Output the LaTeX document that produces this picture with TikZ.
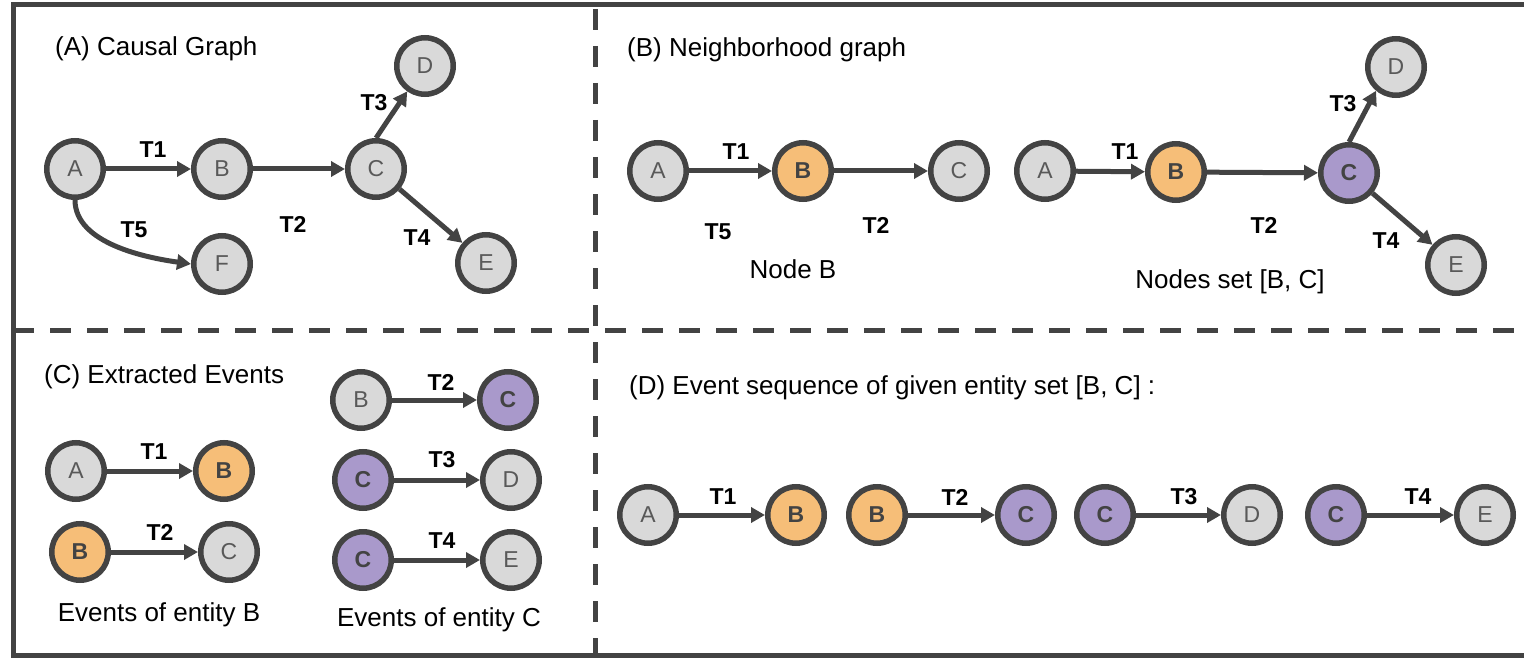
\documentclass[tikz,border=0pt]{standalone}
\usepackage{fontspec}
\setmainfont{Liberation Sans}
\usetikzlibrary{arrows.meta}
\definecolor{edgec}{HTML}{434343}
\definecolor{grayfill}{HTML}{D9D9D9}
\definecolor{orangefill}{HTML}{F6BE78}
\definecolor{purplefill}{HTML}{A999CB}
\definecolor{graytext}{HTML}{595959}
\begin{document}
\begin{tikzpicture}[x=1pt,y=1pt,
 ent/.style={circle, draw=edgec, line width=5.5pt, minimum size=56.5pt, inner sep=0pt, fill=grayfill, text=graytext, font=\fontsize{23}{23}\selectfont},
 entB/.style={ent, fill=orangefill, text=edgec, font=\fontsize{23}{23}\selectfont\bfseries},
 entC/.style={entB, fill=purplefill},
 relarrow/.style={draw=edgec, line width=5pt, -{Triangle[length=14pt,width=15pt]}},
 tlab/.style={font=\fontsize{23}{23}\selectfont\bfseries, inner sep=0pt},
 ptitle/.style={font=\fontsize{26}{26}\selectfont, inner sep=0pt, anchor=west},
 capt/.style={font=\fontsize{26}{26}\selectfont, inner sep=0pt},
 outerframe/.style={draw=edgec, line width=5pt},
 divider/.style={draw=edgec, line width=5pt, dash pattern=on 21pt off 16pt}
]
\useasboundingbox (0,0) rectangle (1524,-658);
% frame and dividers
\draw[outerframe] (1530,-5) -- (13,-5) -- (13,-655.5) -- (1530,-655.5);
\draw[divider] (13,-330) -- (1524,-330);
\draw[divider] (595.5,-9) -- (595.5,-653);

% (A) Causal graph
\node[ptitle] (tA) at (55,-49) {(A) Causal Graph};
\node[ent] (A1) at (75,-169) {A};
\node[ent] (B1) at (222,-169) {B};
\node[ent] (C1) at (376,-169) {C};
\node[ent] (D1) at (425,-66) {D};
\node[ent] (E1) at (486,-263) {E};
\node[ent] (F1) at (222,-264) {F};
\draw[relarrow] (A1) -- (B1);
\draw[relarrow] (B1) -- (C1);
\draw[relarrow] (C1.north) -- (D1.235);
\draw[relarrow] (C1) -- (E1);
\draw[relarrow] (A1.south) to[out=-90,in=172,looseness=0.85] (F1.west);
\node[tlab] (lA1) at (153,-150) {T1};
\node[tlab] (lA2) at (293,-224) {T2};
\node[tlab] (lA3) at (374,-103) {T3};
\node[tlab] (lA4) at (417,-238) {T4};
\node[tlab] (lA5) at (134,-230) {T5};

% (B) Neighborhood graph
\node[ptitle] (tB) at (627,-50) {(B) Neighborhood graph};
\node[ent] (A2) at (658,-171) {A};
\node[entB] (B2) at (803,-171) {B};
\node[ent] (C2) at (959,-171) {C};
\draw[relarrow] (A2) -- (B2);
\draw[relarrow] (B2) -- (C2);
\node[tlab] (lB1) at (736,-152) {T1};
\node[tlab] (lB5) at (718,-232) {T5};
\node[tlab] (lB2) at (876,-225) {T2};
\node[capt] (cB1) at (793,-269) {Node B};

\node[ent] (A3) at (1045,-171) {A};
\node[entB] (B3) at (1176,-172) {B};
\node[entC] (C3) at (1349,-173) {C};
\node[ent] (D3) at (1396,-67) {D};
\node[ent] (E3) at (1456,-265) {E};
\draw[relarrow] (A3) -- (B3);
\draw[relarrow] (B3) -- (C3);
\draw[relarrow] (C3.north) -- (D3.230);
\draw[relarrow] (C3) -- (E3);
\node[tlab] (lC1) at (1125,-152) {T1};
\node[tlab] (lC2) at (1264,-225) {T2};
\node[tlab] (lC3) at (1343,-104) {T3};
\node[tlab] (lC4) at (1386,-241) {T4};
\node[capt] (cB2) at (1230,-282) {Nodes set [B, C]};

% (C) Extracted events
\node[ptitle] (tC) at (44,-377) {(C) Extracted Events};
\node[ent] (A4) at (76,-471) {A};
\node[entB] (B4) at (224,-471) {B};
\draw[relarrow] (A4) -- (B4);
\node[tlab] (lD1) at (154,-452) {T1};
\node[entB] (B5) at (80,-552) {B};
\node[ent] (C5) at (229,-552) {C};
\draw[relarrow] (B5) -- (C5);
\node[tlab] (lD2) at (160,-532) {T2};
\node[capt] (cC1) at (159,-615) {Events of entity B};

\node[ent] (B6) at (361,-400) {B};
\node[entC] (C6) at (508,-400) {C};
\draw[relarrow] (B6) -- (C6);
\node[tlab] (lE2) at (441,-382) {T2};
\node[entC] (C7) at (363,-480) {C};
\node[ent] (D7) at (511,-480) {D};
\draw[relarrow] (C7) -- (D7);
\node[tlab] (lE3) at (442,-460) {T3};
\node[entC] (C8) at (363,-560) {C};
\node[ent] (E8) at (511,-560) {E};
\draw[relarrow] (C8) -- (E8);
\node[tlab] (lE4) at (442,-541) {T4};
\node[capt] (cC2) at (439,-620) {Events of entity C};

% (D) Event sequence
\node[ptitle] (tD) at (629,-388) {(D) Event sequence of given entity set [B, C] :};
\node[ent] (A9) at (648,-515) {A};
\node[entB] (B9) at (796,-515) {B};
\node[entB] (B10) at (877,-515) {B};
\node[entC] (C10) at (1026,-515) {C};
\node[entC] (C11) at (1105,-515) {C};
\node[ent] (D11) at (1252,-515) {D};
\node[entC] (C12) at (1336,-515) {C};
\node[ent] (E12) at (1485,-515) {E};
\draw[relarrow] (A9) -- (B9);
\draw[relarrow] (B10) -- (C10);
\draw[relarrow] (C11) -- (D11);
\draw[relarrow] (C12) -- (E12);
\node[tlab] (lF1) at (723,-497) {T1};
\node[tlab] (lF2) at (955,-497) {T2};
\node[tlab] (lF3) at (1184,-497) {T3};
\node[tlab] (lF4) at (1418,-497) {T4};
\end{tikzpicture}
\end{document}
